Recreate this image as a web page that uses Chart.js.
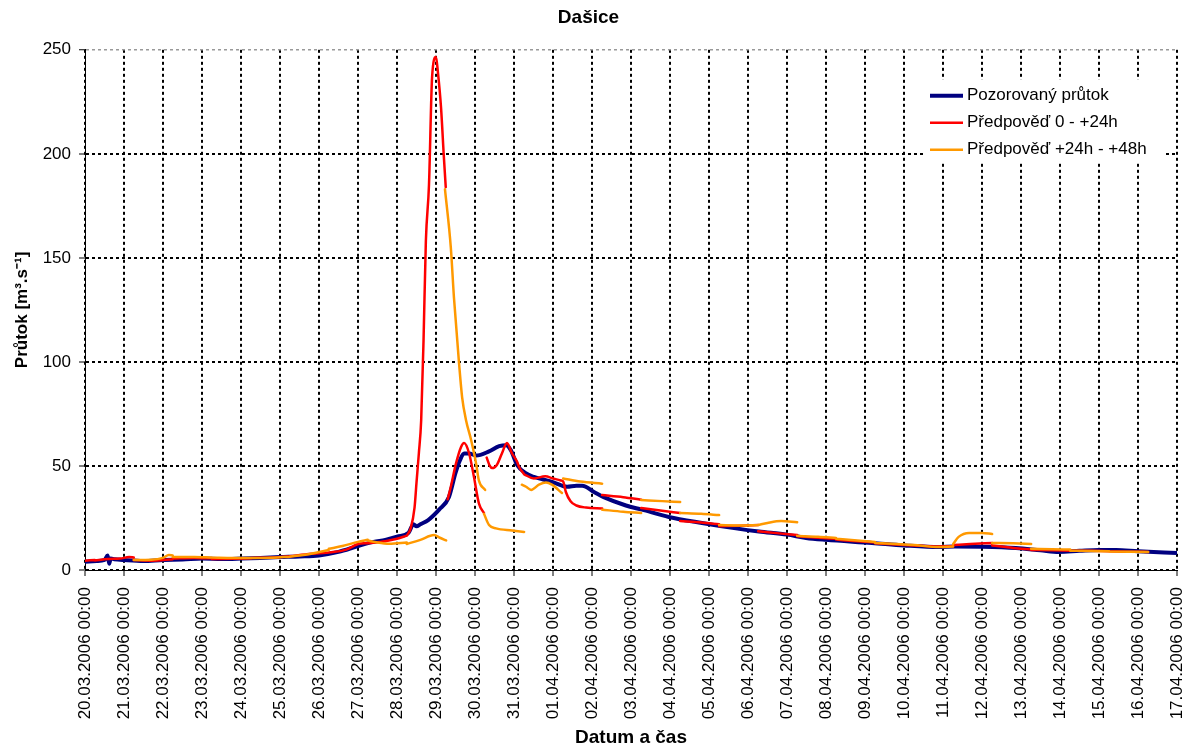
<!DOCTYPE html>
<html><head><meta charset="utf-8">
<script src="https://cdn.jsdelivr.net/npm/chart.js@4.4.0/dist/chart.umd.min.js"></script>
<style>html,body{margin:0;padding:0;background:#fff;}</style>
</head><body>
<canvas id="c" width="1187" height="751"></canvas>
<script>
// ---- data (x = days since 20.03.2006 00:00) ----
const dateLabels = ["20.03.2006 00:00","21.03.2006 00:00","22.03.2006 00:00","23.03.2006 00:00","24.03.2006 00:00","25.03.2006 00:00","26.03.2006 00:00","27.03.2006 00:00","28.03.2006 00:00","29.03.2006 00:00","30.03.2006 00:00","31.03.2006 00:00","01.04.2006 00:00","02.04.2006 00:00","03.04.2006 00:00","04.04.2006 00:00","05.04.2006 00:00","06.04.2006 00:00","07.04.2006 00:00","08.04.2006 00:00","09.04.2006 00:00","10.04.2006 00:00","11.04.2006 00:00","12.04.2006 00:00","13.04.2006 00:00","14.04.2006 00:00","15.04.2006 00:00","16.04.2006 00:00","17.04.2006 00:00"];
const yTicks = [0, 50, 100, 150, 200, 250];

const obsDays = [0,0.3,0.5,0.58,0.62,0.66,0.75,1.0,1.5,2.0,2.5,3.0,3.5,4.0,4.5,5.0,5.5,6.0,6.5,7.0,7.4,7.7,8.0,8.3,8.42,8.5,8.6,8.8,9.08,9.33,9.5,9.62,9.72,9.85,10.03,10.36,10.62,10.8,10.92,11.08,11.3,11.51,11.75,12.03,12.36,12.6,12.75,13.05,13.3,13.87,14.28,14.97,15.82,16.69,17.28,18.0,18.49,19.0,20.18,21.0,21.9,22.3,23.0,23.87,24.5,24.97,25.5,26.0,26.44,27.0,28.0];
const obsFlow = [4.0,4.3,4.8,7,3,5.5,5.2,4.8,4.3,4.8,5.0,5.5,5.3,5.5,5.8,6.2,6.5,7.0,8.7,11.5,13.5,14.5,16,18,22,21,22,24,29,35,46.6,53,56,56,55,57,59.5,60,57.5,50.5,46.5,44.7,43.5,42,40,40.5,40.5,37.5,35,31,29,25.5,22.6,20,18.5,17,15.4,14.5,13,11.8,11,11.3,11.2,10.6,9.5,8.7,9.2,9.6,9.6,9,8.2];

// Předpověď 0 - +24h (null separates forecast runs)
const fc24Days = [0,0.25,null, 0.25,0.6,0.9,1.13,1.25,null, 1.25,1.7,2.25,null, 2.25,2.8,3.25,null, 3.25,3.8,4.25,null, 4.25,4.8,5.25,null, 5.25,5.8,6.25,null, 6.25,6.7,7.0,7.25,null, 7.25,7.7,8.0,8.25,null,
 8.25,8.35,8.45,8.5,8.56,8.62,8.68,8.74,8.82,8.9,9.0,9.05,9.13,9.2,9.25,null,
 9.3,9.38,9.51,9.64,9.72,9.85,9.97,10.1,10.23,null,
 10.3,10.38,10.44,10.56,10.69,10.82,10.95,11.08,11.13,11.26,null,
 11.26,11.51,11.8,12.0,12.2,12.26,12.33,12.45,12.6,12.85,13.26,null,
 13.26,13.8,14.26,null, 14.26,14.8,15.26,null, 15.26,15.8,16.26,null, 16.26,16.8,17.26,null, 17.26,17.8,18.26,null, 18.26,18.8,19.26,null, 19.26,19.8,20.26,null, 20.26,20.8,21.26,null, 21.26,21.8,22.26,null, 22.26,22.7,23.26,null, 23.26,23.8,24.26,null, 24.26,24.8,25.26,null, 25.26,25.8,26.26,null, 26.26,26.8,27.26];
const fc24Flow = [4.5,4.8,null, 4.6,5.3,5.5,6.2,6.0,null, 4.8,4.5,5.2,null, 5.5,5.8,5.6,null, 5.3,5.4,5.6,null, 5.8,6.0,6.6,null, 6.6,7.8,8.4,null, 8.4,9.8,12.5,13.0,null, 12.8,13.8,15,16.5,null,
 16.5,20,30,42,56,72,110,158,185,237,246.5,239,222,199,184,null,
 34,40,51,59,61,56,45,32,27.4,null,
 54,50,49,50.5,56,61,56,52,49.5,46,null,
 46,44,45,44,43,42.5,37.5,33,31,30,29.6,null,
 36,35,33.8,null, 29.8,28.5,27.4,null, 23.5,22.8,22,null, 21,21.3,21.6,null, 18.6,17.6,16.8,null, 16.2,15.5,15,null, 14.6,13.8,13.2,null, 12.8,12.2,11.8,null, 11.8,11.3,11.4,null, 12,12.5,13,null, 11.8,10.6,9.8,null, 9.6,9.5,9.3,null, 9.3,9.2,9.0,null, 9.0,8.8,8.7];

// Předpověď +24h - +48h
const fc48Days = [1.25,1.7,2.0,2.15,2.25,null, 2.25,2.8,3.25,null, 3.25,3.8,4.25,null, 4.25,4.8,5.25,null, 5.25,5.8,6.25,null, 6.25,6.6,7.0,7.25,null, 7.25,7.5,7.8,8.25,null, 8.25,8.6,8.95,9.1,9.26,null,
 9.23,9.38,9.46,9.59,9.67,9.77,9.9,10.03,10.1,10.26,null,
 10.23,10.36,10.54,10.95,11.26,null,
 11.2,11.31,11.44,11.64,11.82,11.97,12.23,null,
 12.26,12.7,13.26,null, 13.26,13.8,14.26,null, 14.26,14.8,15.26,null, 15.26,15.8,16.26,null, 16.26,16.8,17.26,null, 17.26,17.5,17.85,18.26,null, 18.26,18.8,19.26,null, 19.26,19.8,20.26,null, 20.26,20.8,21.26,null, 21.26,21.9,22.26,null,
 22.26,22.4,22.67,23.0,23.26,null, 23.26,23.8,24.26,null, 24.26,24.8,25.26,null, 25.26,25.8,26.26,null, 26.26,26.8,27.26];
const fc48Flow = [4.8,4.9,5.8,7.2,7.0,null, 6.3,6.3,6.0,null, 6.0,5.8,5.8,null, 5.8,5.9,6.4,null, 6.4,7.8,9.6,null, 10.2,11.5,13.5,14.5,null, 14.2,13.2,12.6,13.2,null, 12.5,14.5,16.8,15.5,14.2,null,
 183,155,131,99.5,83,72,62.5,51,43,38.5,null,
 27,21.6,20,19,18.3,null,
 41,40,38.5,41,42,41,37,null,
 44,42.5,41.5,null, 29,28,27.4,null, 33.6,33.1,32.7,null, 27.4,27,26.4,null, 21.6,21.4,21.6,null, 21.6,22.6,23.5,23,null, 16.4,16,15.4,null, 15,14.2,13.5,null, 13,12.5,12,null, 12,11,11.3,null,
 12.5,15.9,17.8,17.8,17.3,null, 13,12.8,12.5,null, 10.2,10,9.8,null, 9.3,9.1,9,null, 8.9,8.8,8.7];

const seriesNames = ["Pozorovaný průtok", "Předpověď 0 - +24h", "Předpověď +24h - +48h"];

function pts(xs, ys) { return xs.map((x, i) => ({ x: x === null ? xs[i - 1] : x, y: ys[i] })); }

const FONT = '"Liberation Sans", Arial, sans-serif';
Chart.defaults.font.family = FONT;
Chart.defaults.color = '#000';

const legendBox = {
  id: 'legendBox',
  afterDraw(chart) {
    const ctx = chart.ctx, a = chart.chartArea;
    const bx = a.right - 254, by = a.top + 30;
    ctx.save();
    ctx.fillStyle = '#fff';
    ctx.fillRect(bx, by, 242, 83);
    chart.data.datasets.forEach((ds, i) => {
      const y = by + 16 + i * 27;
      ctx.strokeStyle = ds.borderColor;
      ctx.lineWidth = ds.borderWidth;
      ctx.beginPath(); ctx.moveTo(bx + 7, y); ctx.lineTo(bx + 40, y); ctx.stroke();
      ctx.fillStyle = '#000';
      ctx.font = '17px ' + FONT;
      ctx.textBaseline = 'middle';
      ctx.fillText(ds.label, bx + 44, y);
    });
    ctx.restore();
  }
};

new Chart(document.getElementById('c'), {
  type: 'line',
  data: {
    datasets: [
      { label: seriesNames[0], data: pts(obsDays, obsFlow), borderColor: '#000080', borderWidth: 4, order: 3 },
      { label: seriesNames[1], data: pts(fc24Days, fc24Flow), borderColor: '#FF0000', borderWidth: 2.5, order: 2 },
      { label: seriesNames[2], data: pts(fc48Days, fc48Flow), borderColor: '#FF9900', borderWidth: 2.5, order: 1 }
    ]
  },
  options: {
    responsive: false,
    animation: false,
    devicePixelRatio: 1,
    spanGaps: false,
    elements: { point: { radius: 0 }, line: { cubicInterpolationMode: 'monotone', borderCapStyle: 'round', borderJoinStyle: 'round' } },
    layout: { padding: { left: 0, right: 10, top: 0, bottom: 0 } },
    plugins: {
      legend: { display: false },
      tooltip: { enabled: false },
      title: { display: true, text: 'Dašice', font: { size: 19, weight: 'bold' }, padding: { top: 6, bottom: 21 }, color: '#000' }
    },
    scales: {
      x: {
        type: 'linear', min: 0, max: dateLabels.length - 1,
        afterFit: s => { s.height = 181; s.paddingLeft = 0; s.paddingRight = 0; },
        ticks: { stepSize: 1, autoSkip: false, minRotation: 90, maxRotation: 90, padding: 11, font: { size: 17 },
                 callback: v => dateLabels[v] },
        grid: { color: '#000', lineWidth: 2, tickLength: 6, tickColor: '#000', tickWidth: 1 },
        border: { display: true, color: '#000', width: 1, dash: [3, 3] },
        title: { display: true, text: 'Datum a čas', font: { size: 19, weight: 'bold' }, padding: { top: 0, bottom: 2 } }
      },
      y: {
        min: yTicks[0], max: yTicks[yTicks.length - 1],
        afterFit: s => { s.width = 85; },
        ticks: { stepSize: 50, padding: 8, font: { size: 17 } },
        grid: { color: c => c.tick && c.tick.value === 250 ? '#999' : '#000', lineWidth: c => c.tick && c.tick.value === 250 ? 1.5 : 2, tickLength: 6, tickColor: '#000', tickWidth: 1 },
        border: { display: true, color: '#000', width: 1, dash: [3, 3] },
        title: { display: true, text: 'Průtok [m³.s⁻¹]', font: { size: 17, weight: 'bold' }, padding: { top: 12, bottom: 0 } }
      }
    }
  },
  plugins: [legendBox]
});
</script>
</body></html>
